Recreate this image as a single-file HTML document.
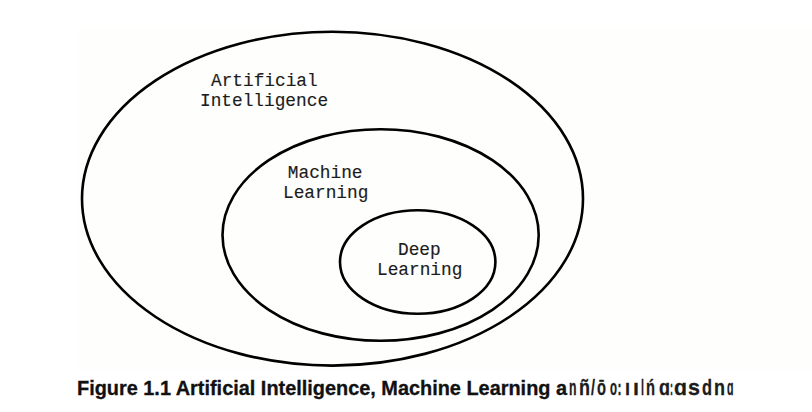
<!DOCTYPE html>
<html><head><meta charset="utf-8">
<style>
html,body{margin:0;padding:0;width:812px;height:412px;overflow:hidden;background:#fff;}
#bg{position:absolute;left:76px;top:29px;width:736px;height:341px;background:#fefefd;}
svg{position:absolute;left:0;top:0;}
.m{position:absolute;font-family:"Liberation Mono",monospace;font-size:17.8px;color:#1c1c1c;white-space:pre;line-height:20px;-webkit-text-stroke:0.15px #1c1c1c;text-align:center;transform-origin:0 0;}
#cap{position:absolute;left:77px;top:375.6px;transform:scaleY(1.035);transform-origin:0 0;font-family:"Liberation Sans",sans-serif;font-weight:bold;font-size:19.9px;color:#111;white-space:pre;-webkit-text-stroke:0.3px #111;}
</style></head><body>
<div id="bg"></div>
<svg width="812" height="412" viewBox="0 0 812 412">
<g fill="none" stroke="#000" stroke-width="2.6">
<ellipse cx="332.5" cy="198.7" rx="250.5" ry="166.9"/>
<ellipse cx="380.6" cy="235" rx="158.1" ry="105.8"/>
<ellipse cx="417.7" cy="262" rx="77.7" ry="51.7"/>
</g>
</svg>
<div class="m" style="left:211px;top:70.5px;">Artificial</div>
<div class="m" style="left:200px;top:90.5px;">Intelligence</div>
<div class="m" style="left:287.8px;top:163px;">Machine</div>
<div class="m" style="left:283px;top:183px;">Learning</div>
<div class="m" style="left:398px;top:240px;">Deep</div>
<div class="m" style="left:377px;top:260px;">Learning</div>
<div id="cap">Figure 1.1 Artificial Intelligence, Machine Learning a</div>
<svg id="garb" width="812" height="412" style="position:absolute;left:0;top:0"><g font-family="'Liberation Sans', sans-serif" font-weight="bold" font-size="21.5" fill="#1c1c1c" stroke="#1c1c1c" stroke-width="0.3"><text x="569" y="395" textLength="7.5" lengthAdjust="spacingAndGlyphs">n</text><text x="579" y="395" textLength="11" lengthAdjust="spacingAndGlyphs">ñ</text><text x="591" y="395" textLength="4" lengthAdjust="spacingAndGlyphs">/</text><text x="597" y="395" textLength="9" lengthAdjust="spacingAndGlyphs">ō</text><text x="610" y="395" textLength="7" lengthAdjust="spacingAndGlyphs">o</text><text x="617.5" y="395" textLength="4" lengthAdjust="spacingAndGlyphs">:</text><text x="625" y="395" textLength="5" lengthAdjust="spacingAndGlyphs">ı</text><text x="633" y="395" textLength="6" lengthAdjust="spacingAndGlyphs">ı</text><text x="641" y="395" textLength="3" lengthAdjust="spacingAndGlyphs">l</text><text x="646" y="395" textLength="9" lengthAdjust="spacingAndGlyphs">ń</text><text x="659" y="395" textLength="11" lengthAdjust="spacingAndGlyphs">ɑ</text><text x="670" y="395" textLength="3" lengthAdjust="spacingAndGlyphs">:</text><text x="674" y="395" textLength="13" lengthAdjust="spacingAndGlyphs">ɑ</text><text x="688" y="395" textLength="12" lengthAdjust="spacingAndGlyphs">s</text><text x="702" y="395" textLength="10" lengthAdjust="spacingAndGlyphs">d</text><text x="714" y="395" textLength="11" lengthAdjust="spacingAndGlyphs">n</text><text x="727" y="395" textLength="6.5" lengthAdjust="spacingAndGlyphs">ɑ</text></g></svg>
</body></html>
